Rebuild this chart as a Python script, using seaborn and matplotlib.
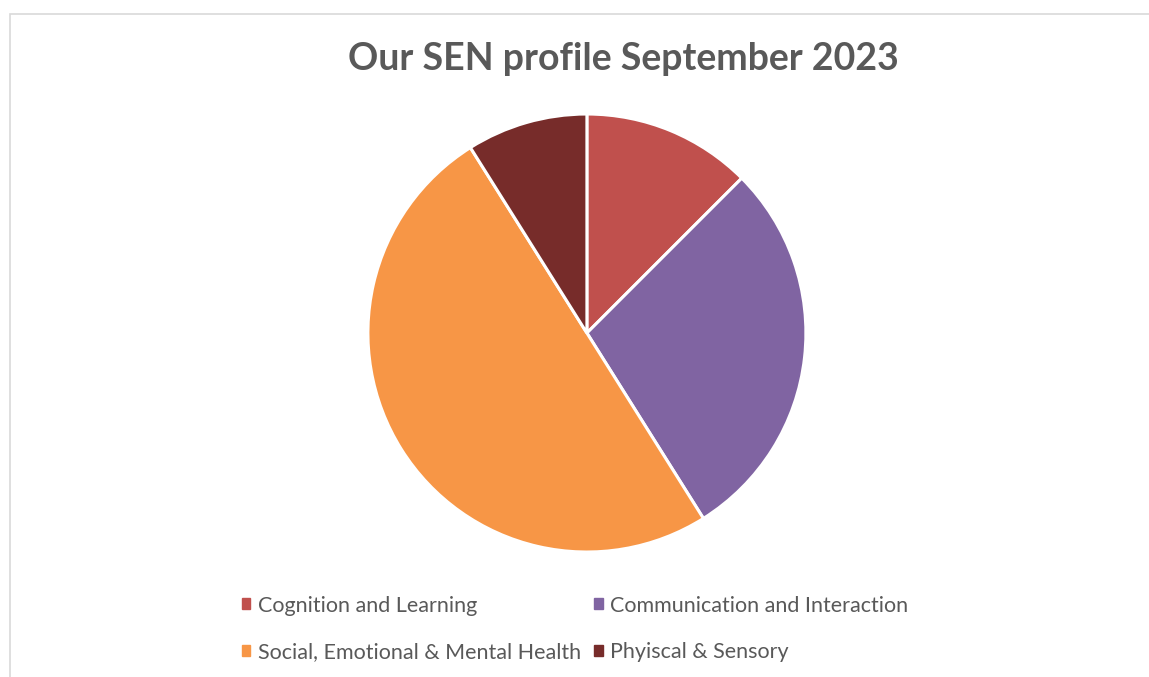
import seaborn as sns
import matplotlib.pyplot as plt
import matplotlib.patches as mpatches

categories = ['Cognition and Learning', 'Communication and Interaction',
              'Social, Emotional & Mental Health', 'Phyiscal & Sensory']
values = [14, 32, 56, 10]
colours = ['#C0504D', '#8064A2', '#F79646', '#772C2A']
title = 'Our SEN profile September 2023'

sns.set_theme(style='white')
plt.rcParams['font.family'] = ['Lato', 'DejaVu Sans']

fig = plt.figure(figsize=(11.49, 6.77), dpi=100)

# chart area border (light grey frame, partly cut off right and bottom)
frame = mpatches.Rectangle((10 / 1149, -0.05), 1.1, 1 - 14 / 677 + 0.05,
                           transform=fig.transFigure, fill=False,
                           edgecolor='#D9D9D9', linewidth=1.2)
fig.patches.append(frame)

ax = fig.add_axes([0.3202, 0.1846, 0.3812, 0.647])
wedges, _ = ax.pie(values, colors=sns.color_palette(colours), startangle=90,
                   counterclock=False, radius=1,
                   wedgeprops=dict(edgecolor='white', linewidth=2.2))
ax.set_xlim(-1, 1)
ax.set_ylim(-1, 1)
ax.set_aspect('equal')
ax.axis('off')

fig.text(623 / 1149, 1 - 59 / 677, title, ha='center', va='center',
         fontsize=27, fontweight='bold', color='#595959')

# legend filled row by row like the original
handles = [mpatches.Patch(color=c, label=l) for c, l in zip(colours, categories)]
order = [0, 2, 1, 3]
leg = fig.legend(handles=[handles[i] for i in order], ncol=2, loc='center',
                 bbox_to_anchor=(575 / 1149, 1 - 629 / 677),
                 frameon=False, fontsize=15.5, labelcolor='#595959',
                 handlelength=0.4, handleheight=0.4, handletextpad=0.35,
                 columnspacing=0.6, labelspacing=1.25)

fig.savefig('out.png', dpi=100)
